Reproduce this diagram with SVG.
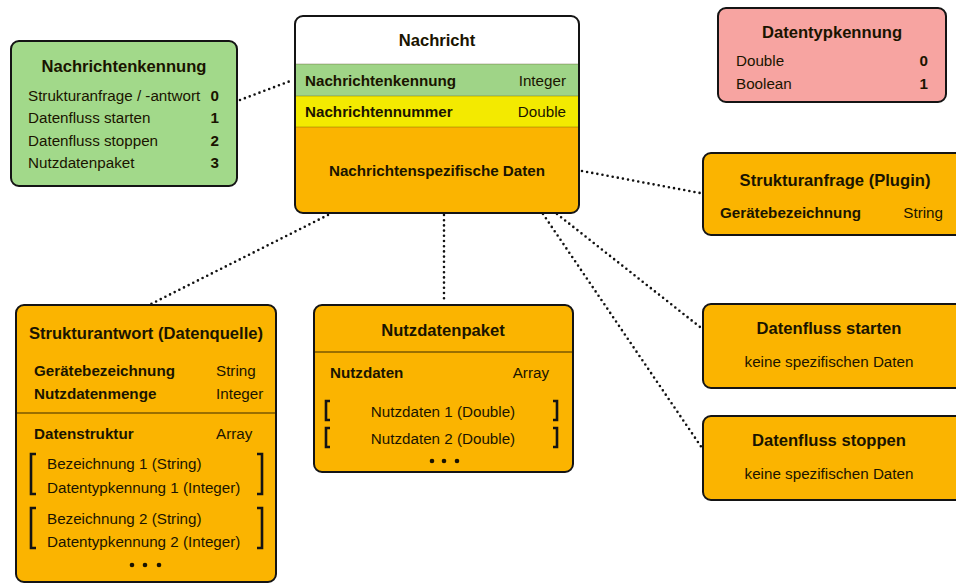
<svg xmlns="http://www.w3.org/2000/svg" width="956" height="583" viewBox="0 0 956 583">
  <defs>
    <style>
      text { font-family: "Liberation Sans", Arial, sans-serif; fill: #1a1400; }
      .title { font-size: 16.6px; font-weight: bold; text-anchor: middle; }
      .t { font-size: 15.2px; }
      .b { font-size: 15.2px; font-weight: bold; }
      .r { text-anchor: end; }
      .c { text-anchor: middle; }
      .box { stroke: #141414; stroke-width: 2; }
      .orange { fill: #fbb400; }
      .green { fill: #a2d98a; }
      .pink { fill: #f7a4a1; }
      .sep { stroke: #3a2a00; stroke-width: 1.2; }
      .brk { fill: none; stroke: #141414; stroke-width: 2.6; }
      .conn { fill: none; stroke: #111; stroke-width: 2.6; stroke-linecap: round; stroke-dasharray: 0 5.2; }
      .dot { fill: #1a1400; }
    </style>
  </defs>

  <!-- dotted connectors -->
  <g id="connectors">
    <line class="conn" x1="240" y1="100" x2="293" y2="80"/>
    <line class="conn" x1="582" y1="171" x2="700" y2="193"/>
    <line class="conn" x1="328" y1="215" x2="151" y2="304"/>
    <line class="conn" x1="444" y1="215" x2="444" y2="303"/>
    <line class="conn" x1="557" y1="214" x2="700" y2="327"/>
    <line class="conn" x1="543" y1="214" x2="702" y2="448"/>
  </g>

  <!-- message id legend -->
  <g id="nachrichtenkennung">
    <rect class="box green" x="11" y="41" width="226" height="145" rx="8"/>
    <text class="title" x="124" y="72">Nachrichtenkennung</text>
    <text class="t" x="28" y="101">Strukturanfrage / -antwort</text>
    <text class="b r" x="219" y="101">0</text>
    <text class="t" x="28" y="123">Datenfluss starten</text>
    <text class="b r" x="219" y="123">1</text>
    <text class="t" x="28" y="146">Datenfluss stoppen</text>
    <text class="b r" x="219" y="146">2</text>
    <text class="t" x="28" y="168">Nutzdatenpaket</text>
    <text class="b r" x="219" y="168">3</text>
  </g>

  <!-- message frame -->
  <g id="nachricht">
    <rect class="orange" x="295" y="16" width="284" height="197" rx="8"/>
    <path d="M295 64 V24 a8 8 0 0 1 8 -8 H571 a8 8 0 0 1 8 8 V64 Z" fill="#ffffff"/>
    <rect x="295" y="64" width="284" height="32" fill="#9fd487"/>
    <rect x="295" y="96" width="284" height="31" fill="#f3ea00"/>
    <line class="sep" x1="295" y1="64" x2="579" y2="64" stroke-opacity="0.3"/>
    <line class="sep" x1="295" y1="96" x2="579" y2="96" stroke-opacity="0.3"/>
    <line class="sep" x1="295" y1="127" x2="579" y2="127" stroke-opacity="0.3"/>
    <rect class="box" fill="none" x="295" y="16" width="284" height="197" rx="8"/>
    <text class="title" x="437" y="46">Nachricht</text>
    <text class="b" x="305" y="86">Nachrichtenkennung</text>
    <text class="t r" x="566" y="86">Integer</text>
    <text class="b" x="305" y="117">Nachrichtennummer</text>
    <text class="t r" x="566" y="117">Double</text>
    <text class="b c" x="437" y="176">Nachrichtenspezifische Daten</text>
  </g>

  <!-- data type legend -->
  <g id="datentypkennung">
    <rect class="box pink" x="718" y="8" width="228" height="94" rx="8"/>
    <text class="title" x="832" y="38">Datentypkennung</text>
    <text class="t" x="736" y="66">Double</text>
    <text class="b r" x="928" y="66">0</text>
    <text class="t" x="736" y="89">Boolean</text>
    <text class="b r" x="928" y="89">1</text>
  </g>

  <g id="strukturanfrage">
    <rect class="box orange" x="703" y="153" width="260" height="82" rx="8"/>
    <text class="title" x="835" y="186">Strukturanfrage (Plugin)</text>
    <text class="b" x="720" y="218">Gerätebezeichnung</text>
    <text class="t r" x="943" y="218">String</text>
  </g>

  <g id="datenfluss-starten">
    <rect class="box orange" x="703" y="304" width="260" height="84" rx="8"/>
    <text class="title" x="829" y="334">Datenfluss starten</text>
    <text class="t c" x="829" y="367">keine spezifischen Daten</text>
  </g>

  <g id="datenfluss-stoppen">
    <rect class="box orange" x="703" y="416" width="260" height="84" rx="8"/>
    <text class="title" x="829" y="446">Datenfluss stoppen</text>
    <text class="t c" x="829" y="479">keine spezifischen Daten</text>
  </g>

  <!-- structure response -->
  <g id="strukturantwort">
    <rect class="box orange" x="16" y="305" width="260" height="277" rx="8"/>
    <text class="title" x="146" y="339">Strukturantwort (Datenquelle)</text>
    <text class="b" x="34" y="376">Gerätebezeichnung</text>
    <text class="t" x="216" y="376">String</text>
    <text class="b" x="34" y="399">Nutzdatenmenge</text>
    <text class="t" x="216" y="399">Integer</text>
    <line class="sep" x1="17" y1="413" x2="275" y2="413"/>
    <text class="b" x="34" y="439">Datenstruktur</text>
    <text class="t" x="216" y="439">Array</text>
    <path class="brk" d="M36 454 H31 V494 H36 M257 454 H262 V494 H257"/>
    <text class="t" x="47" y="469">Bezeichnung 1 (String)</text>
    <text class="t" x="47" y="493">Datentypkennung 1 (Integer)</text>
    <path class="brk" d="M36 508 H31 V548 H36 M257 508 H262 V548 H257"/>
    <text class="t" x="47" y="524">Bezeichnung 2 (String)</text>
    <text class="t" x="47" y="547">Datentypkennung 2 (Integer)</text>
    <circle class="dot" cx="132" cy="565" r="2.3"/>
    <circle class="dot" cx="145" cy="565" r="2.3"/>
    <circle class="dot" cx="159" cy="565" r="2.3"/>
  </g>

  <!-- payload packet -->
  <g id="nutzdatenpaket">
    <rect class="box orange" x="314" y="305" width="259" height="167" rx="8"/>
    <text class="title" x="443" y="336">Nutzdatenpaket</text>
    <line class="sep" x1="315" y1="352" x2="572" y2="352"/>
    <text class="b" x="330" y="378">Nutzdaten</text>
    <text class="t r" x="549" y="378">Array</text>
    <path class="brk" d="M330 401 H326 V420 H330 M553 401 H557 V420 H553"/>
    <text class="t c" x="443" y="417">Nutzdaten 1 (Double)</text>
    <path class="brk" d="M330 428 H326 V447 H330 M553 428 H557 V447 H553"/>
    <text class="t c" x="443" y="444">Nutzdaten 2 (Double)</text>
    <circle class="dot" cx="432" cy="461" r="2.3"/>
    <circle class="dot" cx="444" cy="461" r="2.3"/>
    <circle class="dot" cx="457" cy="461" r="2.3"/>
  </g>
</svg>
